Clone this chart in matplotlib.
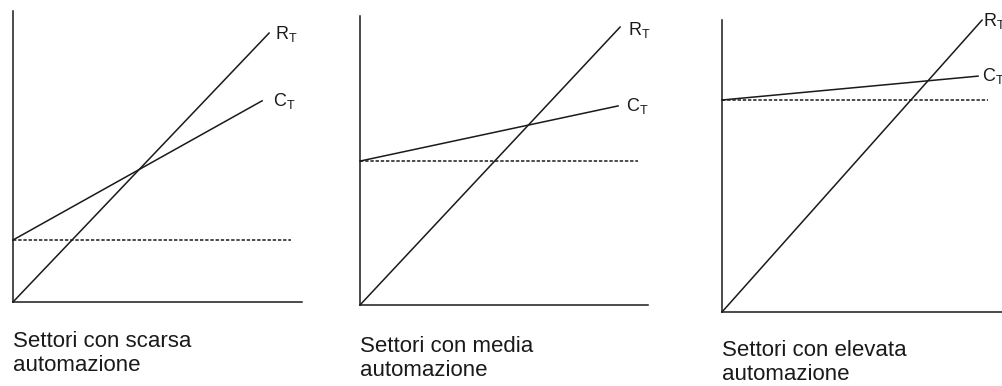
import numpy as np
import matplotlib.pyplot as plt

plt.rcParams['font.family'] = ['Liberation Sans', 'DejaVu Sans']
plt.rcParams['mathtext.fontset'] = 'custom'
plt.rcParams['mathtext.rm'] = 'Liberation Sans'
plt.rcParams['mathtext.it'] = 'Liberation Sans'

# break-even schemes: quantity and amounts on a 0-100 scale
titles = ['Settori con scarsa\nautomazione',
          'Settori con media\nautomazione',
          'Settori con elevata\nautomazione']
fixed_cost = [21.3, 49.8, 72.6]      # dotted line / C_T intercept
var_cost = [0.555, 0.213, 0.092]     # slope of C_T
price = [1.043, 1.065, 1.107]        # slope of R_T
q_revenue_end = [88.6, 90.3, 90.3]
q_cost_end = [86.2, 89.6, 88.9]
q_fixed_end = [96.2, 96.5, 92.4]

# axes boxes in pixels: (origin x, origin y, width, height), caption drop
boxes = [(13, 302, 289, 291), (360, 305, 288, 289), (722, 312, 288, 292)]
caption_drop = [29, 31, 28]
r_label_off = [(6, -1), (8, -3), (1, -1)]
c_label_off = [(11, 0), (8, 0), (4, 0)]
W, H = 1002, 386
ink = '#1a1a1a'

fig = plt.figure(figsize=(W / 100, H / 100), dpi=100)

for i in range(3):
    x0, y0, w, h = boxes[i]
    ax = fig.add_axes([x0 / W, 1 - y0 / H, w / W, h / H])
    ax.set_xlim(0, 100)
    ax.set_ylim(0, 100)
    ax.patch.set_alpha(0)
    for s in ['top', 'right']:
        ax.spines[s].set_visible(False)
    for s in ['left', 'bottom']:
        ax.spines[s].set_color(ink)
        ax.spines[s].set_linewidth(1.1)
    ax.set_xticks([])
    ax.set_yticks([])

    # total revenue
    qr = np.array([0, q_revenue_end[i]])
    ax.plot(qr, price[i] * qr, color=ink, lw=1.1, clip_on=False)
    # total cost
    qc = np.array([0, q_cost_end[i]])
    ax.plot(qc, fixed_cost[i] + var_cost[i] * qc, color=ink, lw=1.1, clip_on=False)
    # fixed cost
    ax.plot([0, q_fixed_end[i]], [fixed_cost[i]] * 2, color=ink, lw=1.1,
            ls=(0, (2.2, 1.2)), clip_on=False)

    ax.annotate('$\\mathrm{R_T}$', (q_revenue_end[i], price[i] * q_revenue_end[i]),
                xytext=r_label_off[i], textcoords='offset pixels', ha='left',
                va='center', fontsize=13, color=ink, annotation_clip=False)
    ax.annotate('$\\mathrm{C_T}$',
                (q_cost_end[i], fixed_cost[i] + var_cost[i] * q_cost_end[i]),
                xytext=c_label_off[i], textcoords='offset pixels', ha='left',
                va='center', fontsize=13, color=ink, annotation_clip=False)

    ax.annotate(titles[i], (0, 0), xytext=(0, -caption_drop[i]),
                textcoords='offset pixels', ha='left', va='top',
                fontsize=16, color=ink, linespacing=1.2, annotation_clip=False)

fig.savefig('out.png', dpi=100)
